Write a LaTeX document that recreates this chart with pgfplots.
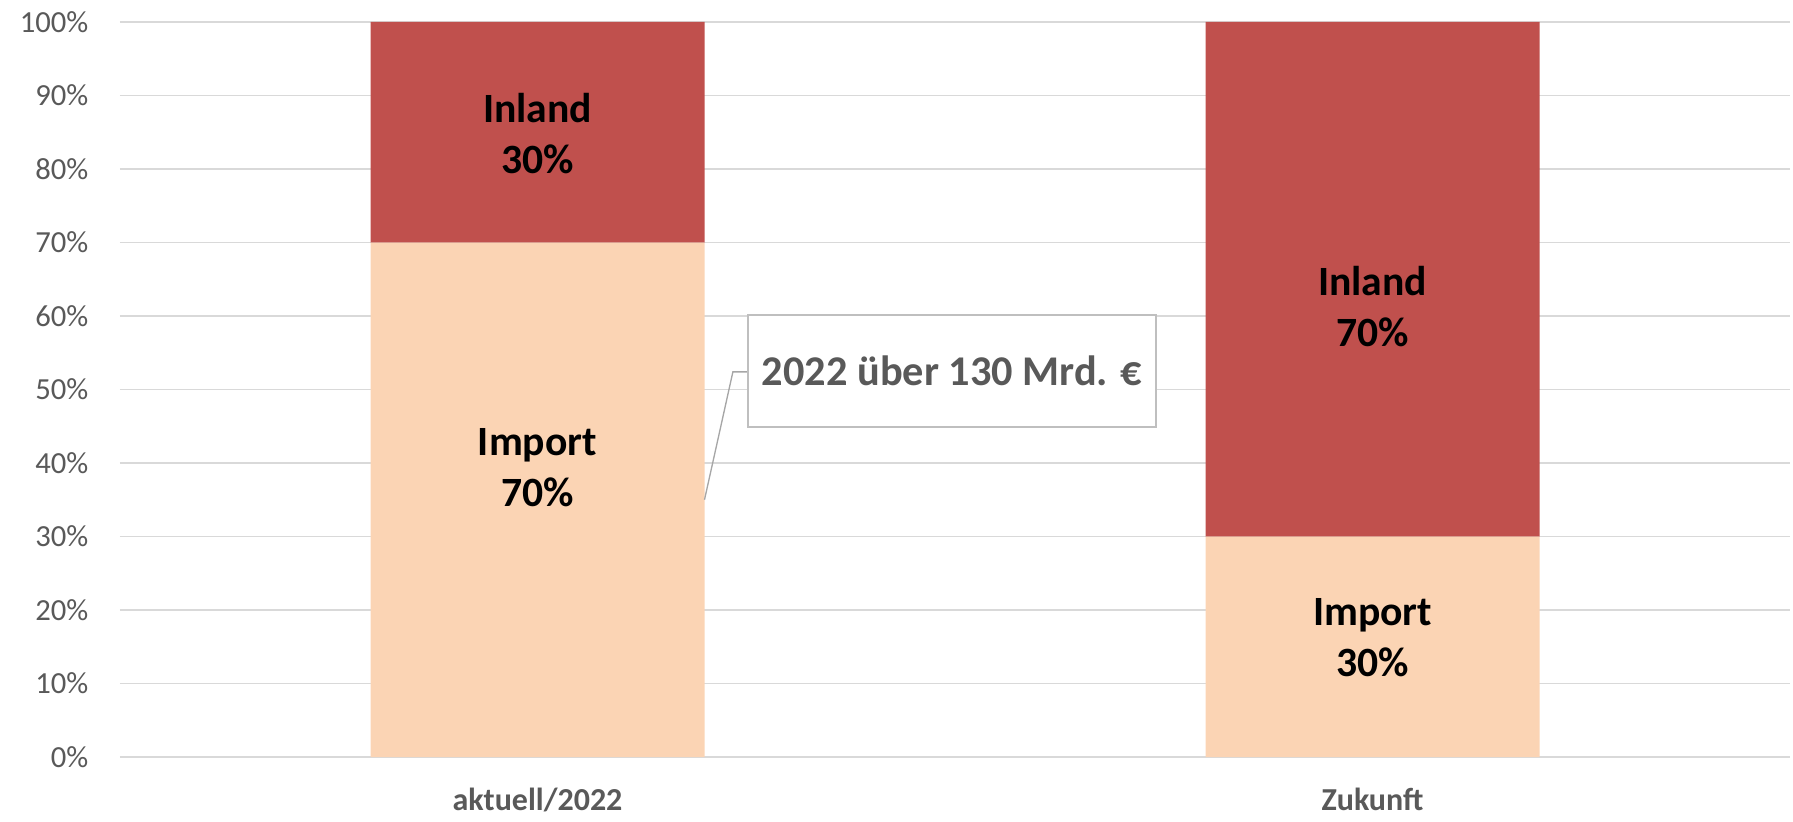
\documentclass[border=0pt]{standalone}
\usepackage{pgfplots}
\pgfplotsset{compat=1.18}
\usepackage{fontspec}
\setmainfont{Carlito}
\definecolor{inland}{HTML}{C0504D}
\definecolor{import}{HTML}{FBD4B4}
\definecolor{gridc}{HTML}{D9D9D9}
\definecolor{txt}{HTML}{595959}
\definecolor{boxc}{HTML}{BFBFBF}
\definecolor{leader}{HTML}{A6A6A6}
\tikzset{barlab/.style={align=center, font=\fontsize{12.5}{15.3}\selectfont\bfseries, text=black}}
\begin{document}
\begin{tikzpicture}
\begin{axis}[
  scale only axis,
  width=501pt, height=220.5pt,
  ybar stacked,
  bar width=0.4,
  xmin=-0.5, xmax=1.5,
  ymin=0, ymax=100,
  xtick={0,1},
  xticklabels={aktuell/2022, Zukunft},
  ytick={0,10,...,100},
  yticklabel={\pgfmathprintnumber{\tick}\%},
  /pgf/number format/assume math mode=true,
  axis line style={draw=none},
  major tick length=0pt,
  ymajorgrids,
  grid style={gridc, line width=0.5pt},
  yticklabel style={font=\fontsize{9.2}{11}\selectfont, text=txt, anchor=east, inner sep=0pt, xshift=-9.3pt},
  xticklabel style={font=\fontsize{9.6}{11}\selectfont\bfseries, text=txt, anchor=north, inner sep=0pt, yshift=-9pt},
  clip=false,
]
\addplot[fill=import, draw=none] coordinates {(0,70) (1,30)};
\addplot[fill=inland, draw=none] coordinates {(0,30) (1,70)};
\coordinate (l1) at (axis cs:0,84.8);
\coordinate (l2) at (axis cs:0,39.3);
\coordinate (l3) at (axis cs:1,61.3);
\coordinate (l4) at (axis cs:1,16.3);
\coordinate (c0) at (axis cs:0.2,35);
\coordinate (c1) at (axis cs:0.234,52.4);
\coordinate (c2) at (axis cs:0.252,52.4);
\coordinate (cb) at (axis cs:0.4965,52.5);
\end{axis}
\node[barlab] at (l1) {Inland\\30\%};
\node[barlab] at (l2) {Import\\70\%};
\node[barlab] at (l3) {Inland\\70\%};
\node[barlab] at (l4) {Import\\30\%};
\draw[leader, line width=0.4pt] (c0) -- (c1) -- (c2);
\node[draw=boxc, line width=0.4pt, fill=white, minimum width=122.4pt, minimum height=33.6pt, inner sep=0pt,
  font=\fontsize{12.7}{15.3}\selectfont\bfseries, text=txt] at (cb) {2022 über 130 Mrd. €};
\pgfresetboundingbox
\path (current axis.south west) ++(-36pt,-19.2pt) coordinate (bl);
\path (current axis.north east) ++(0.9pt,6.6pt) coordinate (tr);
\path[use as bounding box] (bl) rectangle (tr);
\end{tikzpicture}
\end{document}
